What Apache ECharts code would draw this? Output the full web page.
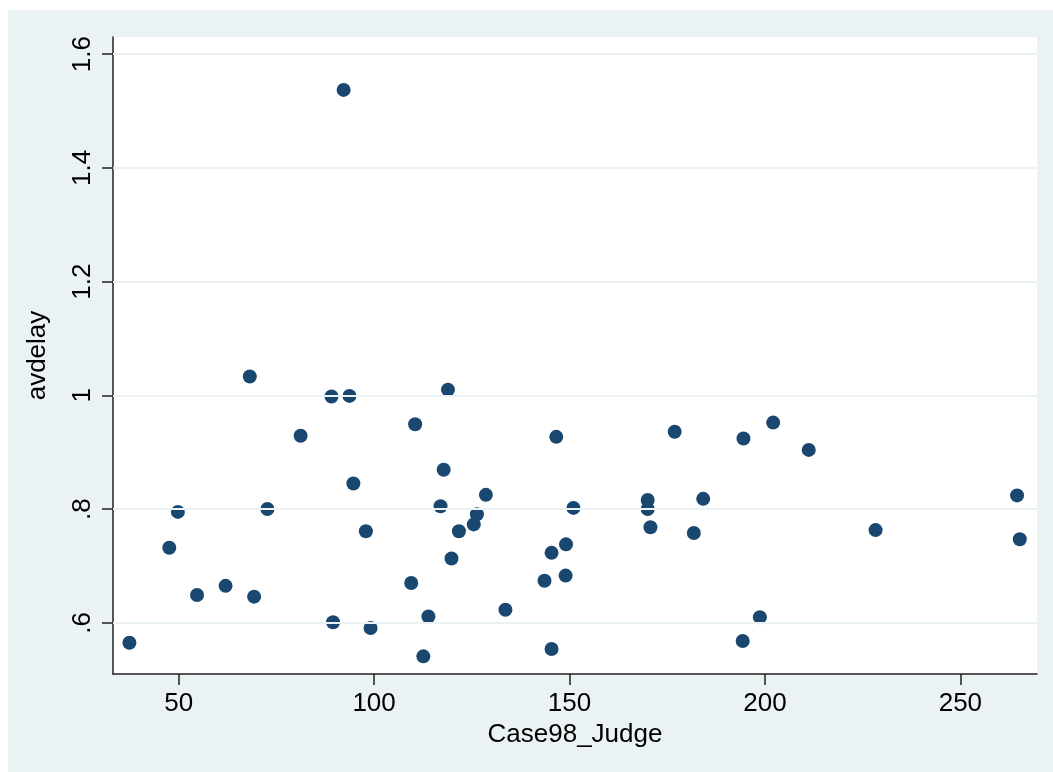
<!DOCTYPE html>
<html>
<head>
<meta charset="utf-8">
<script src="https://cdn.jsdelivr.net/npm/echarts@6/dist/echarts.min.js"></script>
<style>
html,body{margin:0;padding:0;background:#fff;}
#chart{width:1053px;height:772px;}
</style>
</head>
<body>
<div id="chart"></div>
<script>
const xName = 'Case98_Judge';
const yName = 'avdelay';
const xValues = [37.4, 47.6, 49.8, 54.7, 62.0, 68.2, 69.3, 72.7, 81.2, 89.1,
  89.5, 92.2, 93.7, 94.7, 97.9, 99.1, 109.5, 110.5, 112.6, 113.9,
  117.0, 117.8, 118.9, 119.8, 121.7, 125.5, 126.3, 128.6, 133.6, 143.6,
  145.4, 145.4, 146.6, 149.0, 149.1, 151.0, 170.0, 170.0, 170.7, 176.9,
  181.8, 184.2, 194.5, 194.3, 198.7, 202.1, 211.2, 228.3, 264.5, 265.2];
const yValues = [0.565, 0.732, 0.795, 0.649, 0.665, 1.033, 0.646, 0.800, 0.929, 0.998,
  0.601, 1.537, 0.999, 0.845, 0.761, 0.591, 0.670, 0.949, 0.541, 0.611,
  0.805, 0.869, 1.010, 0.713, 0.761, 0.773, 0.791, 0.825, 0.623, 0.674,
  0.723, 0.554, 0.927, 0.683, 0.738, 0.802, 0.816, 0.800, 0.768, 0.936,
  0.758, 0.818, 0.924, 0.568, 0.610, 0.952, 0.904, 0.763, 0.824, 0.747];
const xTicks = [50, 100, 150, 200, 250];
const yTicks = [0.6, 0.8, 1.0, 1.2, 1.4, 1.6];
const yTickLabels = ['.6', '.8', '1', '1.2', '1.4', '1.6'];

const points = xValues.map((x, i) => [x, yValues[i]]);
const font = "'Liberation Sans', Arial, sans-serif";
const chart = echarts.init(document.getElementById('chart'), null, {renderer: 'canvas'});
chart.setOption({
  animation: false,
  backgroundColor: '#EAF2F3',
  graphic: [
    {type: 'rect', shape: {x: 0, y: 0, width: 1053, height: 10}, style: {fill: '#ffffff'}, silent: true},
    {type: 'rect', shape: {x: 0, y: 0, width: 8, height: 772}, style: {fill: '#ffffff'}, silent: true}
  ],
  grid: {left: 113, top: 37, right: 16, bottom: 98, show: true, backgroundColor: '#ffffff', borderWidth: 0},
  xAxis: {
    type: 'value', min: 33.2, max: 269.6,
    name: xName, nameLocation: 'middle', nameGap: 43,
    nameTextStyle: {fontFamily: font, fontSize: 26, color: '#000'},
    axisLine: {show: true, onZero: false, lineStyle: {color: '#222', width: 1.5}},
    axisTick: {show: true, length: 11, customValues: xTicks, lineStyle: {color: '#222', width: 1.5}},
    axisLabel: {customValues: xTicks, fontFamily: font, fontSize: 26, color: '#000', margin: 17},
    splitLine: {show: false}
  },
  yAxis: {
    type: 'value', min: 0.51, max: 1.63,
    name: yName, nameLocation: 'middle', nameGap: 62, nameRotate: 90,
    nameTextStyle: {fontFamily: font, fontSize: 26, color: '#000'},
    axisLine: {show: true, onZero: false, lineStyle: {color: '#222', width: 1.5}},
    axisTick: {show: true, length: 11, customValues: yTicks, lineStyle: {color: '#222', width: 1.5}},
    axisLabel: {
      customValues: yTicks, rotate: 90, fontFamily: font, fontSize: 26, color: '#000', margin: 17,
      formatter: v => { const i = yTicks.findIndex(t => Math.abs(t - v) < 1e-6); return i >= 0 ? yTickLabels[i] : ''; }
    },
    splitLine: {show: false}
  },
  series: [
    {
      type: 'scatter', data: [], z: 1, silent: true,
      markLine: {
        silent: true, symbol: ['none', 'none'], label: {show: false},
        lineStyle: {color: '#EAF2F3', width: 2, type: 'solid'},
        data: yTicks.map(v => ({yAxis: v}))
      }
    },
    {
      type: 'scatter', data: points, z: 3, symbol: 'circle', symbolSize: 14,
      itemStyle: {color: '#1a476f', opacity: 1}
    }
  ]
});
</script>
</body>
</html>
